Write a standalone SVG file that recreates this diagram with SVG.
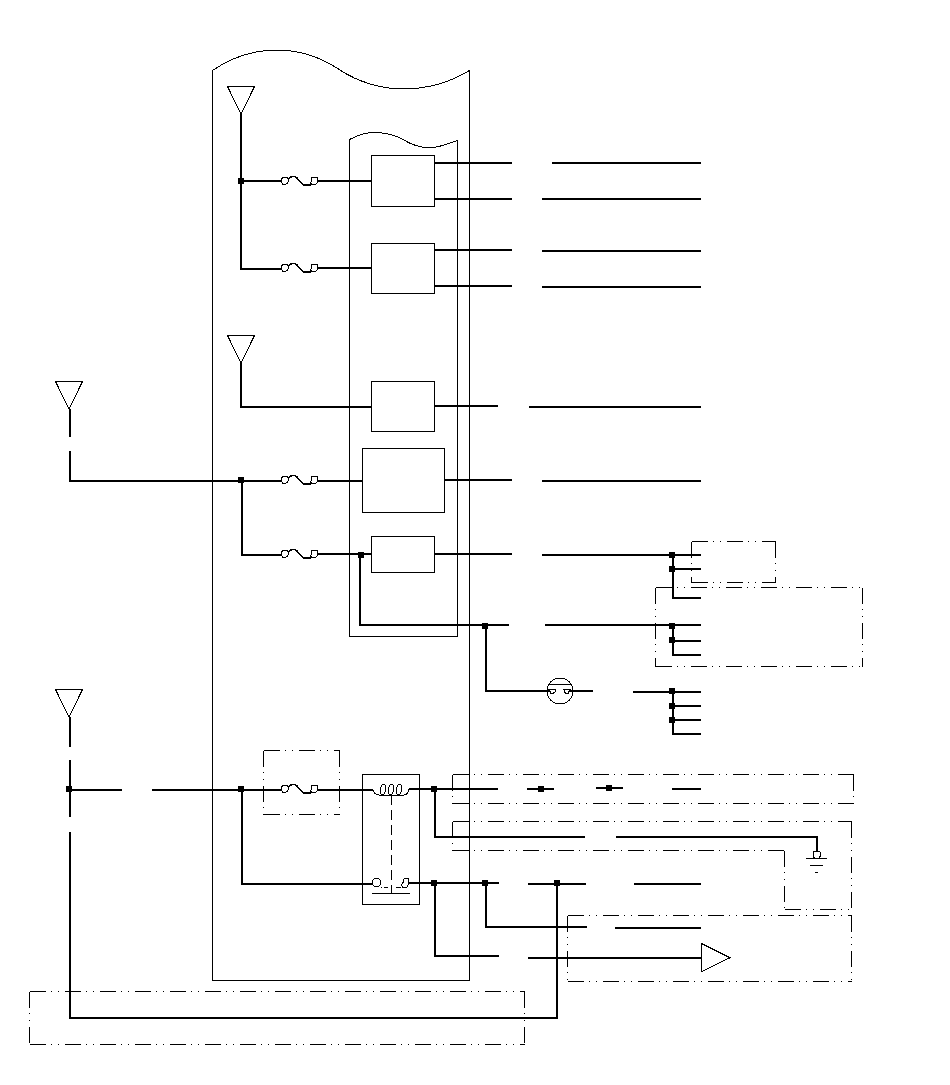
<svg xmlns="http://www.w3.org/2000/svg" width="950" height="1085" viewBox="0 0 950 1085">
<style>
svg{shape-rendering:crispEdges}
.t{fill:none;stroke:#000;stroke-width:1}
.m{fill:none;stroke:#000;stroke-width:1.500}
.w{fill:none;stroke:#000;stroke-width:2}
.d{fill:none;stroke:#000;stroke-width:1;stroke-dasharray:16 5.500 1 6 1 5.500}
.c{fill:none;stroke:#000;stroke-width:1;stroke-dasharray:10 5}
.n{fill:#000}
.box{fill:none;stroke:#000;stroke-width:1}
</style>
<defs>
<g id="fuse">
<path class="t" d="M0.500 -0.500C0.500-3 2-4 4-4C6-4 7.500-2.500 7.500-0.500C7.500 1.500 5.500 3.500 3 3.500C1.500 3.500 0.500 1.500 0.500 -0.500Z"/>
<path class="m" d="M7-2C9-4 12-5 14-4.500C17-3.500 19 2 22 3"/>
<path class="w" d="M22 3.500H30"/>
<path class="t" d="M30.500-3.500H36.500V1.500L34.500 3.500H31.500L29.500 2.500L30.500 0Z"/>
</g>
<polygon id="ant" class="t" points="0.500,0.500 27.500,0.500 14,28"/>
<rect id="dot" class="n" x="-3" y="-3" width="6" height="6"/>
<ellipse id="loop" class="t" cx="0" cy="0" rx="2.600" ry="5.500" transform="rotate(10)"/>
</defs>

<g id="enclosure-outer"><path class="t" d="M212.500 980.500V70.500C232 57 255 50 277 50C305 50 325 60 340 70C358 82 382 89 403 89C428 89 452 81 469.500 70.500V980.500Z"/></g>
<g id="enclosure-inner"><path class="t" d="M349.500 636.500V139.500C358 135 368 132 377 132.500C387 133 395 135 402 139C410 144 420 148 431 147.700C441 147 450 143 457.500 140.500V636.500Z"/></g>

<g id="connectors">
<path class="w" d="M241 114V269H281M241 181H281M317 181H371M317 268H371"/>
<path class="w" d="M435 163H512M552 163H701M435 199H512M542 199H701M435 250H512M542 251H701M435 286H512M542 287H701"/>
<path class="w" d="M241 363V407H371M435 406H498M529 407H701"/>
<path class="w" d="M70 409V437M70 451V481H281M317 481H362M444 480H512M542 481H701"/>
<path class="w" d="M242 481V555H281M317 554H371M435 554H512M542 555H701"/>
<path class="w" d="M673 555V598H701M673 569H701"/>
<path class="w" d="M360 554V625H509M545 625H701M673 625V655H701M673 641H701"/>
<path class="w" d="M486 625V691H550M570 691H593M633 692H701M673 692V734H701M673 706H701M673 720H701"/>
<path class="w" d="M70 717V747M70 760V817M70 832V1018H557V883M70 790H122M152 790H281M317 790H373"/>
<path class="w" d="M409 789H498M527 789H554M596 788H623M672 789H701"/>
<path class="w" d="M435 789V837H585M616 837H817V851"/>
<path class="w" d="M242 790V884H372M409 883H499M528 884H586M634 884H701M486 883V927H587M615 928H701M435 883V956H499M528 958H701"/>
</g>

<g id="ant1"><use href="#ant" x="227" y="86"/></g>
<g id="ant2"><use href="#ant" x="227" y="335"/></g>
<g id="ant3"><use href="#ant" x="55" y="381"/></g>
<g id="ant4"><use href="#ant" x="55" y="689"/></g>

<g id="fuse1"><use href="#fuse" x="281" y="181"/></g>
<g id="fuse2"><use href="#fuse" x="281" y="268"/></g>
<g id="fuse3"><use href="#fuse" x="281" y="480"/></g>
<g id="fuse4"><use href="#fuse" x="281" y="554"/></g>
<g id="fuse5"><use href="#fuse" x="281" y="789"/></g>

<g id="box1"><rect class="box" x="371.500" y="155.500" width="63" height="51"/></g>
<g id="box2"><rect class="box" x="371.500" y="243.500" width="63" height="50"/></g>
<g id="box3"><rect class="box" x="371.500" y="381.500" width="63" height="50"/></g>
<g id="box4"><rect class="box" x="362.500" y="448.500" width="82" height="64"/></g>
<g id="box5"><rect class="box" x="371.500" y="536.500" width="63" height="36"/></g>

<g id="dashed-areas">
<path class="d" d="M691.500 541.500H775.500M691.500 541.500V582.500M691.500 582.500H775.500M775.500 541.500V582.500"/>
<path class="d" d="M655.500 587.500H862.500M655.500 587.500V666.500M655.500 666.500H862.500M862.500 587.500V666.500"/>
<path class="d" d="M263.500 750.500H339.500M263.500 750.500V814.500M263.500 814.500H339.500M339.500 750.500V814.500"/>
<path class="d" d="M452.500 774.500H853.500M452.500 774.500V803.500M452.500 803.500H853.500M853.500 774.500V803.500"/>
<path class="d" d="M452.500 821.500H851.500M452.500 821.500V850.500M452.500 850.500H784.500M784.500 850.500V909.500M784.500 909.500H851.500M851.500 821.500V909.500"/>
<path class="d" d="M567.500 915.500H851.500M567.500 915.500V981.500M567.500 981.500H851.500M851.500 915.500V981.500"/>
<path class="d" d="M29.500 991.500H524.500M29.500 991.500V1044.500M29.500 1044.500H524.500M524.500 991.500V1044.500"/>
</g>

<g id="relay">
<rect class="t" x="362.500" y="774.500" width="57" height="130"/>
<path class="t" d="M373 790C374 793 375 795 379 795H404C408 795 408 792 409 789"/>
<use href="#loop" x="383" y="789.500"/>
<use href="#loop" x="391" y="789.500"/>
<use href="#loop" x="399" y="789.500"/>
<path class="c" d="M391.500 795V893"/>
<circle class="t" cx="376.500" cy="882.500" r="4.300"/>
<path class="t" d="M403 880L404.500 878.500H408.500V884.500L406.500 887.500H403L401.500 885L403 882.500ZM381 887.500H382M384 887.500H388M396 887.500H401M372 893.500H410"/>
</g>

<g id="lamp">
<circle class="t" cx="560" cy="691" r="13"/>
<path class="t" d="M549 684.500H571M549 689.500H555.500L555 692L553 693.500H551ZM564 689.500H570L568 693.500H566L564.500 692Z"/>
</g>

<g id="ground">
<path class="t" d="M813.500 851H819.500L820.500 853V856L819 858H814.500L813 856V853ZM806 858.500H827M810 865.500H823M815 872.500H818"/>
</g>

<g id="amp"><polygon class="t" points="701.500,943.500 730,957.700 701.500,971.700"/></g>

<g id="junctions">
<use href="#dot" x="241" y="181"/>
<use href="#dot" x="241" y="480"/>
<use href="#dot" x="361" y="555"/>
<use href="#dot" x="672" y="555"/>
<use href="#dot" x="672" y="569"/>
<use href="#dot" x="485" y="626"/>
<use href="#dot" x="672" y="626"/>
<use href="#dot" x="672" y="640"/>
<use href="#dot" x="672" y="691"/>
<use href="#dot" x="672" y="706"/>
<use href="#dot" x="672" y="720"/>
<use href="#dot" x="69" y="789"/>
<use href="#dot" x="241" y="789"/>
<use href="#dot" x="434" y="789"/>
<use href="#dot" x="541" y="789"/>
<use href="#dot" x="609" y="788"/>
<use href="#dot" x="434" y="883"/>
<use href="#dot" x="485" y="883"/>
<use href="#dot" x="557" y="883"/>
</g>
</svg>
